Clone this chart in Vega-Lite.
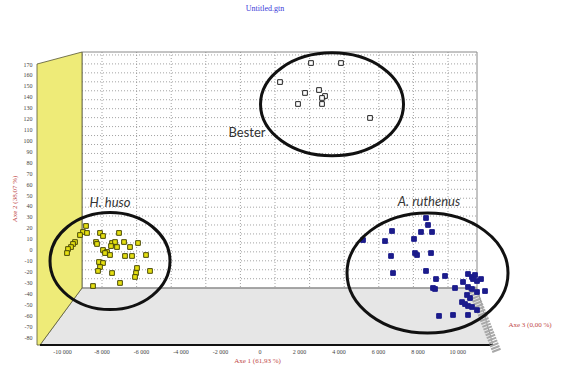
{
  "$schema": "https://vega.github.io/schema/vega-lite/v6.json",
  "width": 440,
  "height": 293,
  "autosize": {"type": "none"},
  "padding": {"left": 37, "top": 52, "right": 84, "bottom": 25},
  "background": "white",
  "config": {"view": {"stroke": null}},
  "title": {"text": "Untitled.gtn", "font": "Liberation Serif", "fontSize": 8, "fontWeight": "normal", "color": "#3a3ad8", "offset": 34, "dx": 8},
  "datasets": {
    "pts": [
      {"group": "Bester", "x": 2606, "y": 170.9},
      {"group": "Bester", "x": 4124, "y": 170.9},
      {"group": "Bester", "x": 1037, "y": 153.5},
      {"group": "Bester", "x": 2302, "y": 143.5},
      {"group": "Bester", "x": 3011, "y": 146.2},
      {"group": "Bester", "x": 3314, "y": 140.7},
      {"group": "Bester", "x": 3163, "y": 138.9},
      {"group": "Bester", "x": 1948, "y": 133.4},
      {"group": "Bester", "x": 3163, "y": 133.4},
      {"group": "Bester", "x": 5592, "y": 120.6},
      {"group": "H. huso", "x": -8779, "y": 21.7},
      {"group": "H. huso", "x": -8931, "y": 16.2},
      {"group": "H. huso", "x": -8729, "y": 15.3},
      {"group": "H. huso", "x": -9083, "y": 13.4},
      {"group": "H. huso", "x": -9336, "y": 7.0},
      {"group": "H. huso", "x": -9437, "y": 5.2},
      {"group": "H. huso", "x": -9538, "y": 2.4},
      {"group": "H. huso", "x": -9690, "y": 0.6},
      {"group": "H. huso", "x": -9741, "y": -3.1},
      {"group": "H. huso", "x": -8071, "y": 15.3},
      {"group": "H. huso", "x": -7919, "y": 12.5},
      {"group": "H. huso", "x": -7109, "y": 15.3},
      {"group": "H. huso", "x": -8273, "y": 7.0},
      {"group": "H. huso", "x": -8223, "y": 5.2},
      {"group": "H. huso", "x": -7463, "y": 6.1},
      {"group": "H. huso", "x": -7312, "y": 7.0},
      {"group": "H. huso", "x": -7514, "y": 3.3},
      {"group": "H. huso", "x": -7211, "y": 2.4},
      {"group": "H. huso", "x": -6856, "y": 7.0},
      {"group": "H. huso", "x": -6148, "y": 6.1},
      {"group": "H. huso", "x": -6553, "y": 2.4},
      {"group": "H. huso", "x": -7919, "y": -0.3},
      {"group": "H. huso", "x": -7717, "y": -2.1},
      {"group": "H. huso", "x": -7818, "y": -3.1},
      {"group": "H. huso", "x": -7565, "y": -4.9},
      {"group": "H. huso", "x": -6806, "y": -5.8},
      {"group": "H. huso", "x": -6452, "y": -5.8},
      {"group": "H. huso", "x": -5743, "y": -4.9},
      {"group": "H. huso", "x": -8121, "y": -11.3},
      {"group": "H. huso", "x": -7919, "y": -12.2},
      {"group": "H. huso", "x": -8071, "y": -15.9},
      {"group": "H. huso", "x": -8172, "y": -19.5},
      {"group": "H. huso", "x": -6199, "y": -16.8},
      {"group": "H. huso", "x": -5541, "y": -19.5},
      {"group": "H. huso", "x": -6249, "y": -21.4},
      {"group": "H. huso", "x": -7463, "y": -21.4},
      {"group": "H. huso", "x": -6300, "y": -25.0},
      {"group": "H. huso", "x": -7059, "y": -30.5},
      {"group": "H. huso", "x": -8425, "y": -33.3},
      {"group": "A. ruthenus", "x": 8425, "y": 29.0},
      {"group": "A. ruthenus", "x": 8526, "y": 22.6},
      {"group": "A. ruthenus", "x": 8172, "y": 16.2},
      {"group": "A. ruthenus", "x": 8729, "y": 16.2},
      {"group": "A. ruthenus", "x": 6705, "y": 17.1},
      {"group": "A. ruthenus", "x": 5237, "y": 8.8},
      {"group": "A. ruthenus", "x": 6350, "y": 7.9},
      {"group": "A. ruthenus", "x": 7818, "y": 9.8},
      {"group": "A. ruthenus", "x": 7868, "y": -3.1},
      {"group": "A. ruthenus", "x": 7970, "y": -4.9},
      {"group": "A. ruthenus", "x": 8678, "y": -3.1},
      {"group": "A. ruthenus", "x": 6654, "y": -5.8},
      {"group": "A. ruthenus", "x": 8425, "y": -19.5},
      {"group": "A. ruthenus", "x": 6755, "y": -21.4},
      {"group": "A. ruthenus", "x": 8931, "y": -26.9},
      {"group": "A. ruthenus", "x": 9387, "y": -24.1},
      {"group": "A. ruthenus", "x": 8779, "y": -35.1},
      {"group": "A. ruthenus", "x": 8880, "y": -36.0},
      {"group": "A. ruthenus", "x": 9892, "y": -35.1},
      {"group": "A. ruthenus", "x": 10297, "y": -29.6},
      {"group": "A. ruthenus", "x": 10550, "y": -22.3},
      {"group": "A. ruthenus", "x": 10752, "y": -25.0},
      {"group": "A. ruthenus", "x": 10803, "y": -26.9},
      {"group": "A. ruthenus", "x": 10904, "y": -23.2},
      {"group": "A. ruthenus", "x": 11005, "y": -28.7},
      {"group": "A. ruthenus", "x": 11208, "y": -26.9},
      {"group": "A. ruthenus", "x": 10550, "y": -34.2},
      {"group": "A. ruthenus", "x": 10752, "y": -36.0},
      {"group": "A. ruthenus", "x": 11005, "y": -38.8},
      {"group": "A. ruthenus", "x": 11410, "y": -37.9},
      {"group": "A. ruthenus", "x": 10500, "y": -41.5},
      {"group": "A. ruthenus", "x": 10651, "y": -44.3},
      {"group": "A. ruthenus", "x": 10247, "y": -48.0},
      {"group": "A. ruthenus", "x": 10398, "y": -49.8},
      {"group": "A. ruthenus", "x": 10550, "y": -51.6},
      {"group": "A. ruthenus", "x": 10752, "y": -52.5},
      {"group": "A. ruthenus", "x": 11005, "y": -55.3},
      {"group": "A. ruthenus", "x": 9083, "y": -60.7},
      {"group": "A. ruthenus", "x": 9791, "y": -59.8},
      {"group": "A. ruthenus", "x": 10550, "y": -59.8}
    ]
  },
  "encoding": {
    "x": {"field": "x", "type": "quantitative", "scale": {"domain": [-11259, 11005], "nice": false, "zero": false},
      "axis": {"values": [-10000, -8000, -6000, -4000, -2000, 0, 2000, 4000, 6000, 8000, 10000], "grid": false, "domain": false, "ticks": false, "labelOverlap": false, "labelBound": false, "labelPadding": 3, "labelFont": "Liberation Serif", "labelFontSize": 6, "labelColor": "#444444",
        "labelExpr": "datum.value == 0 ? '0' : (datum.value < 0 ? '-' : '') + floor(abs(datum.value) / 1000) + ' 000'",
        "title": "Axe 1 (61,93 %)", "titleFont": "Liberation Serif", "titleFontSize": 7, "titleFontWeight": "normal", "titleColor": "#c04848", "titlePadding": 2}},
    "y": {"field": "y", "type": "quantitative", "scale": {"domain": [-87.3, 181], "nice": false, "zero": false},
      "axis": {"values": [170, 160, 150, 140, 130, 120, 110, 100, 90, 80, 70, 60, 50, 40, 30, 20, 10, 0, -10, -20, -30, -40, -50, -60, -70, -80], "grid": false, "domain": false, "ticks": false, "labelOverlap": false, "labelBound": false, "labelPadding": 5, "labelFont": "Liberation Serif", "labelFontSize": 6, "labelColor": "#444444",
        "labelExpr": "(datum.value < 0 ? '-' : '') + abs(datum.value)",
        "title": "Axe 2 (38,07 %)", "titleFont": "Liberation Serif", "titleFontSize": 7, "titleFontWeight": "normal", "titleColor": "#c04848", "titlePadding": 6}}
  },
  "layer": [
    {
      "data": {"values": [
        {"x": -11107, "y": -87.3, "y2": -87.3},
        {"x": -8981, "y": -35.1, "y2": -87.3},
        {"x": 11005, "y": -35.1, "y2": -87.3},
        {"x": 11815, "y": -87.3, "y2": -87.3}
      ]},
      "mark": {"type": "area", "fill": "#e6e6e6", "stroke": "#777777", "strokeWidth": 0.8, "clip": false},
      "encoding": {"y2": {"field": "y2"}}
    },
    {
      "data": {"values": [
        {"y": 178.3, "x": -8981, "x2": 11005}, {"y": 170.1, "x": -8981, "x2": 11005}, {"y": 161.9, "x": -8981, "x2": 11005}, {"y": 153.7, "x": -8981, "x2": 11005},
        {"y": 145.5, "x": -8981, "x2": 11005}, {"y": 137.3, "x": -8981, "x2": 11005}, {"y": 129.1, "x": -8981, "x2": 11005}, {"y": 120.9, "x": -8981, "x2": 11005},
        {"y": 112.7, "x": -8981, "x2": 11005}, {"y": 104.5, "x": -8981, "x2": 11005}, {"y": 96.3, "x": -8981, "x2": 11005}, {"y": 88.1, "x": -8981, "x2": 11005},
        {"y": 79.9, "x": -8981, "x2": 11005}, {"y": 71.7, "x": -8981, "x2": 11005}, {"y": 63.5, "x": -8981, "x2": 11005}, {"y": 55.3, "x": -8981, "x2": 11005},
        {"y": 47.1, "x": -8981, "x2": 11005}, {"y": 38.9, "x": -8981, "x2": 11005}, {"y": 30.8, "x": -8981, "x2": 11005}, {"y": 22.6, "x": -8981, "x2": 11005},
        {"y": 14.4, "x": -8981, "x2": 11005}, {"y": 6.2, "x": -8981, "x2": 11005}, {"y": -2.0, "x": -8981, "x2": 11005}, {"y": -10.2, "x": -8981, "x2": 11005},
        {"y": -18.4, "x": -8981, "x2": 11005}, {"y": -26.6, "x": -8981, "x2": 11005}
      ]},
      "mark": {"type": "rule", "color": "#8a8a8a", "strokeDash": [1, 2], "strokeWidth": 0.8},
      "encoding": {"x2": {"field": "x2"}}
    },
    {
      "data": {"values": [
        {"x": -7970, "y": 181, "y2": -35.1}, {"x": -6218, "y": 181, "y2": -35.1}, {"x": -4467, "y": 181, "y2": -35.1}, {"x": -2717, "y": 181, "y2": -35.1},
        {"x": -966, "y": 181, "y2": -35.1}, {"x": 784, "y": 181, "y2": -35.1}, {"x": 2535, "y": 181, "y2": -35.1}, {"x": 4286, "y": 181, "y2": -35.1},
        {"x": 6036, "y": 181, "y2": -35.1}, {"x": 7787, "y": 181, "y2": -35.1}, {"x": 9538, "y": 181, "y2": -35.1}
      ]},
      "mark": {"type": "rule", "color": "#8a8a8a", "strokeDash": [1, 2], "strokeWidth": 0.8},
      "encoding": {"y2": {"field": "y2"}}
    },
    {
      "data": {"values": [{"x": -8981, "x2": 11005, "y": 181, "y2": -35.1}]},
      "mark": {"type": "rect", "fill": null, "stroke": "#888888", "strokeWidth": 1},
      "encoding": {"x2": {"field": "x2"}, "y2": {"field": "y2"}}
    },
    {
      "data": {"values": [
        {"x": -11259, "y": 170, "y2": -87.3},
        {"x": -11107, "y": 170.7, "y2": -87.3},
        {"x": -8981, "y": 181, "y2": -35.1}
      ]},
      "mark": {"type": "area", "fill": "#eeeb78", "stroke": "#555533", "strokeWidth": 0.8, "clip": false},
      "encoding": {"y2": {"field": "y2"}}
    },
    {
      "data": {"values": [{"x": -11107, "x2": 11815, "y": -87.3}]},
      "mark": {"type": "rule", "color": "#111111", "strokeWidth": 2, "clip": false},
      "encoding": {"x2": {"field": "x2"}}
    },
    {
      "data": {"values": [{"x": 10752, "x2": 12018, "y": -35.1, "y2": -93.7}]},
      "mark": {"type": "rule", "color": "#a8a8a8", "strokeWidth": 9, "strokeDash": [2, 1], "clip": false},
      "encoding": {"x2": {"field": "x2"}, "y2": {"field": "y2"}}
    },
    {
      "data": {"name": "pts"},
      "mark": {"type": "point", "shape": "square", "filled": true, "size": 22, "strokeWidth": 1, "opacity": 1, "clip": false},
      "encoding": {
        "fill": {"field": "group", "type": "nominal", "scale": {"domain": ["Bester", "H. huso", "A. ruthenus"], "range": ["#ffffff", "#e6e010", "#1c1c8c"]}, "legend": null},
        "stroke": {"field": "group", "type": "nominal", "scale": {"domain": ["Bester", "H. huso", "A. ruthenus"], "range": ["#222222", "#4a4a08", "#1c1c8c"]}, "legend": null}
      }
    },
    {
      "data": {"values": [{"group": "Bester", "x": 3669, "y": 133.1}]},
      "mark": {"type": "point", "shape": "M-1,0A1,0.72 0 1,0 1,0A1,0.72 0 1,0 -1,0Z", "size": 20449, "filled": false, "stroke": "#111111", "strokeWidth": 3, "opacity": 1, "clip": false}
    },
    {
      "data": {"values": [{"group": "H. huso", "x": -7565, "y": -10.4}]},
      "mark": {"type": "point", "shape": "M-1,0A1,0.808 0 1,0 1,0A1,0.808 0 1,0 -1,0Z", "size": 14400, "filled": false, "stroke": "#111111", "strokeWidth": 3, "opacity": 1, "clip": false}
    },
    {
      "data": {"values": [{"group": "A. ruthenus", "x": 8501, "y": -21.4}]},
      "mark": {"type": "point", "shape": "M-1,0A1,0.745 0 1,0 1,0A1,0.745 0 1,0 -1,0Z", "size": 25921, "filled": false, "stroke": "#111111", "strokeWidth": 3, "opacity": 1, "clip": false}
    },
    {
      "data": {"values": [{"label": "Bester", "x": -633, "y": 106.8}]},
      "mark": {"type": "text", "font": "Lato", "fontSize": 13, "color": "#333333", "align": "center", "baseline": "middle"},
      "encoding": {"text": {"field": "label"}}
    },
    {
      "data": {"values": [{"label": "H. huso", "x": -7565, "y": 42.7}, {"label": "A. ruthenus", "x": 8577, "y": 43.6}]},
      "mark": {"type": "text", "font": "Lato", "fontSize": 13, "fontStyle": "italic", "color": "#333333", "align": "center", "baseline": "middle"},
      "encoding": {"text": {"field": "label"}}
    },
    {
      "data": {"values": [{"label": "Axe 3 (0,00 %)", "x": 13687, "y": -69.0}]},
      "mark": {"type": "text", "font": "Liberation Serif", "fontSize": 7, "color": "#c04848", "align": "center", "baseline": "middle", "clip": false},
      "encoding": {"text": {"field": "label"}}
    }
  ]
}
